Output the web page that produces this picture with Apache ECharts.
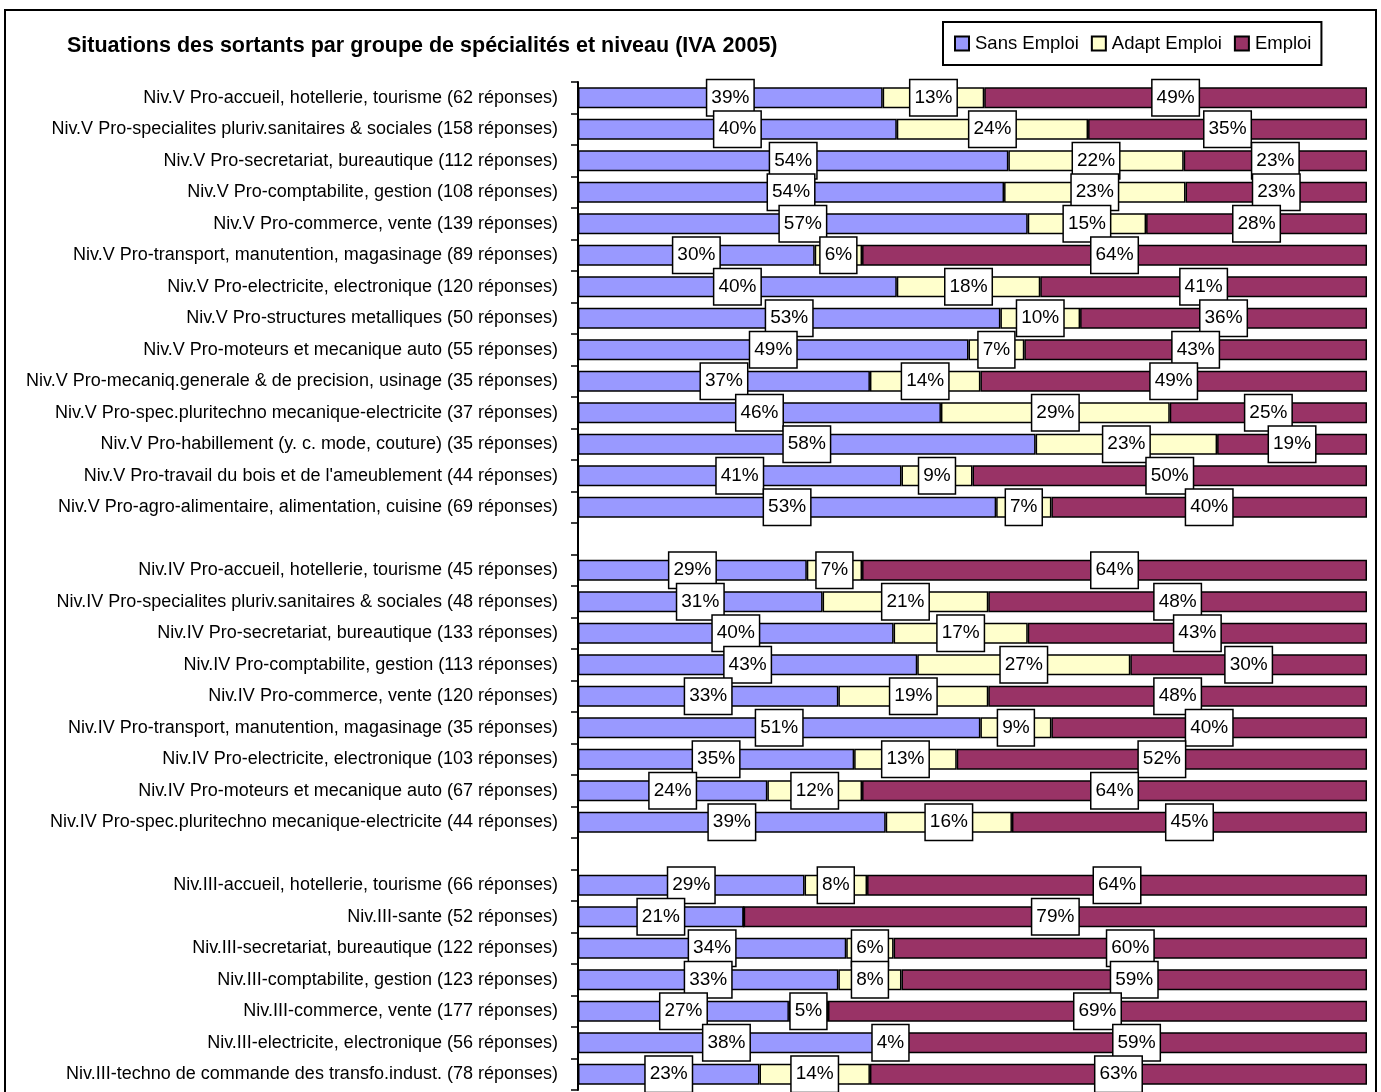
<!DOCTYPE html>
<html><head><meta charset="utf-8">
<script src="https://cdn.jsdelivr.net/npm/echarts@6/dist/echarts.min.js"></script>
<style>html,body{margin:0;padding:0;background:#fff}#c{width:1381px;height:1092px}</style>
</head><body><div id="c"></div>
<script>
const categories = [
 "Niv.V Pro-accueil, hotellerie, tourisme (62 réponses)",
 "Niv.V Pro-specialites pluriv.sanitaires & sociales (158 réponses)",
 "Niv.V Pro-secretariat, bureautique (112 réponses)",
 "Niv.V Pro-comptabilite, gestion (108 réponses)",
 "Niv.V Pro-commerce, vente (139 réponses)",
 "Niv.V Pro-transport, manutention, magasinage (89 réponses)",
 "Niv.V Pro-electricite, electronique (120 réponses)",
 "Niv.V Pro-structures metalliques (50 réponses)",
 "Niv.V Pro-moteurs et mecanique auto (55 réponses)",
 "Niv.V Pro-mecaniq.generale & de precision, usinage (35 réponses)",
 "Niv.V Pro-spec.pluritechno mecanique-electricite (37 réponses)",
 "Niv.V Pro-habillement (y. c. mode, couture) (35 réponses)",
 "Niv.V Pro-travail du bois et de l'ameublement (44 réponses)",
 "Niv.V Pro-agro-alimentaire, alimentation, cuisine (69 réponses)",
 "",
 "Niv.IV Pro-accueil, hotellerie, tourisme (45 réponses)",
 "Niv.IV Pro-specialites pluriv.sanitaires & sociales (48 réponses)",
 "Niv.IV Pro-secretariat, bureautique (133 réponses)",
 "Niv.IV Pro-comptabilite, gestion (113 réponses)",
 "Niv.IV Pro-commerce, vente (120 réponses)",
 "Niv.IV Pro-transport, manutention, magasinage (35 réponses)",
 "Niv.IV Pro-electricite, electronique (103 réponses)",
 "Niv.IV Pro-moteurs et mecanique auto (67 réponses)",
 "Niv.IV Pro-spec.pluritechno mecanique-electricite (44 réponses)",
 " ",
 "Niv.III-accueil, hotellerie, tourisme (66 réponses)",
 "Niv.III-sante (52 réponses)",
 "Niv.III-secretariat, bureautique (122 réponses)",
 "Niv.III-comptabilite, gestion (123 réponses)",
 "Niv.III-commerce, vente (177 réponses)",
 "Niv.III-electricite, electronique (56 réponses)",
 "Niv.III-techno de commande des transfo.indust. (78 réponses)"
];
const sansEmploi  = [39,40,54,54,57,30,40,53,49,37,46,58,41,53,null,29,31,40,43,33,51,35,24,39,null,29,21,34,33,27,38,23];
const adaptEmploi = [13,24,22,23,15,6,18,10,7,14,29,23,9,7,null,7,21,17,27,19,9,13,12,16,null,8,0,6,8,5,4,14];
const emploi      = [49,35,23,23,28,64,41,36,43,49,25,19,50,40,null,64,48,43,30,48,40,52,64,45,null,64,79,60,59,69,59,63];
const seriesNames = ["Sans Emploi","Adapt Emploi","Emploi"];
const colors = ["#9999FF","#FFFFCC","#993366"];

const raw = [sansEmploi, adaptEmploi, emploi];
const totals = categories.map((c,i)=> raw[0][i]==null ? null : raw[0][i]+raw[1][i]+raw[2][i]);
const FONT = "'Liberation Sans',Arial,sans-serif";

const series = raw.map((arr,k)=>({
  name: seriesNames[k], type:'bar', stack:'s', barWidth: 21,
  itemStyle:{color:colors[k], borderColor:'#000', borderWidth:1.5},
  data: arr.map((v,i)=> v==null ? null : (v===0 ? {value:0, label:{show:false}} : v/totals[i]*100)),
  label:{
    show:true, position:'inside', color:'#000', fontSize:19, lineHeight:21, fontFamily:FONT,
    backgroundColor:'#fff', borderColor:'#000', borderWidth:1.5, padding:[7,4,7,4],
    formatter: p => raw[k][p.dataIndex] + '%'
  }
}));

const chart = echarts.init(document.getElementById('c'), null, {renderer:'canvas'});
chart.setOption({
  animation:false,
  backgroundColor:'#fff',
  textStyle:{fontFamily:FONT},
  graphic:[{type:'rect', shape:{x:5,y:10,width:1371,height:1200}, style:{fill:'none', stroke:'#000', lineWidth:2}, z:-1}],
  title:{text:'Situations des sortants par groupe de spécialités et niveau (IVA 2005)', left:62, top:30,
    textStyle:{fontFamily:FONT, fontSize:21.5, fontWeight:'bold', color:'#000'}},
  legend:{left:943, top:22, padding:[12,10,12,11], borderColor:'#000', borderWidth:2, itemGap:12,
    itemWidth:14, itemHeight:14, icon:'rect',
    textStyle:{fontFamily:FONT, fontSize:18.5, color:'#000', padding:[0,0,0,1]},
    data: seriesNames},
  grid:{left:578, right:14, top:82, bottom:2, containLabel:false},
  xAxis:{type:'value', min:0, max:100, show:false},
  yAxis:{type:'category', inverse:true, data:categories,
    axisLine:{lineStyle:{color:'#000', width:2}},
    axisTick:{show:true, length:7, lineStyle:{color:'#000', width:1.5}},
    axisLabel:{color:'#000', fontSize:18, fontFamily:FONT, margin:20, interval:0}},
  series
});
</script></body></html>
